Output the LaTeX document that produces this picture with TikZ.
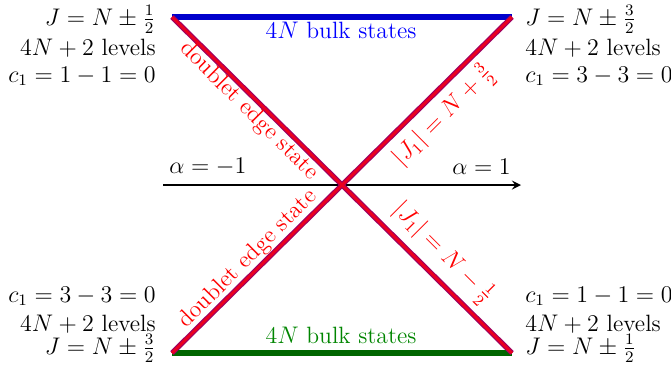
\documentclass[tikz,border=0pt]{standalone}
\usepackage{amsmath}
\tikzset{every picture/.style={line width=0.75pt}}
\definecolor{bulkblue}{rgb}{0,0,0.8}
\definecolor{bulkgreen}{rgb}{0,0.4,0}
\definecolor{edgepurple}{rgb}{0.62,0,0.38}
\definecolor{edgered}{rgb}{0.92,0,0.12}
\tikzset{
lbl/.style={inner sep=0.75pt, font=\fontsize{11.8}{14}\selectfont},
bulkline/.style={line width=2.6pt},
edgeunder/.style={line width=2.6pt, color=edgepurple},
edgeover/.style={line width=1.4pt, color=edgered, xshift=-0.65pt},
}

\begin{document}
\begin{tikzpicture}[x=0.5pt,y=0.5pt,yscale=-1,xscale=1]
\useasboundingbox (0,0) rectangle (671,372);

% corners and crossing point
\coordinate (TL) at (172,17);
\coordinate (TR) at (512,17);
\coordinate (BL) at (172,353);
\coordinate (BR) at (512,353);
\coordinate (O) at (342,185);
\coordinate (axL) at (163,185);
\coordinate (axR) at (521,185);

% alpha axis
\draw [line width=1pt, -stealth] (axL) -- (axR);
\node (am) [lbl, anchor=base west] at (167,173) {$\alpha=-1$};
\node (ap) [lbl, anchor=base east] at (513,174) {$\alpha=1$};

% bulk bands
\draw [bulkline, color=bulkblue] (TL) -- (TR);
\draw [bulkline, color=bulkgreen] (BL) -- (BR);
\node (bulkT) [lbl, anchor=base, color=blue] at (341,38) {$4N$ bulk states};
\node (bulkB) [lbl, anchor=base, color=bulkgreen!80!green] at (341,343) {$4N$ bulk states};

% edge state lines
\draw [edgeunder] (TL) -- (BR);
\draw [edgeunder] (BL) -- (TR);
\draw [edgeover] (TL) -- (O);
\draw [edgeover] (BL) -- (O);
\draw [edgeover] (O) -- (TR);
\draw [edgeover] (O) -- (BR);
\node (dTL) [lbl, rotate=-45, color=red] at (249,111) {doublet edge state};
\node (dBL) [lbl, rotate=45, color=red] at (248,259) {doublet edge state};
\node (jTR) [lbl, rotate=45, color=red] at (444,116) {$|J_1|=N+\frac{3}{2}$};
\node (jBR) [lbl, rotate=-45, color=red] at (443,253) {$|J_1|=N-\frac{1}{2}$};

% left labels
\node (lt1) [lbl, anchor=base east] at (158,25) {$J=N\pm\frac{1}{2}$};
\node (lt2) [lbl, anchor=base east] at (158,55) {$4N+2$ levels};
\node (lt3) [lbl, anchor=base east] at (158,82) {$c_1=1-1=0$};
\node (lb1) [lbl, anchor=base east] at (158,302) {$c_1=3-3=0$};
\node (lb2) [lbl, anchor=base east] at (158,331) {$4N+2$ levels};
\node (lb3) [lbl, anchor=base east] at (158,354) {$J=N\pm\frac{3}{2}$};

% right labels
\node (rt1) [lbl, anchor=base west] at (523,25) {$J=N\pm\frac{3}{2}$};
\node (rt2) [lbl, anchor=base west] at (523,55) {$4N+2$ levels};
\node (rt3) [lbl, anchor=base west] at (523,82) {$c_1=3-3=0$};
\node (rb1) [lbl, anchor=base west] at (523,302) {$c_1=1-1=0$};
\node (rb2) [lbl, anchor=base west] at (523,331) {$4N+2$ levels};
\node (rb3) [lbl, anchor=base west] at (523,354) {$J=N\pm\frac{1}{2}$};

\end{tikzpicture}
\end{document}
